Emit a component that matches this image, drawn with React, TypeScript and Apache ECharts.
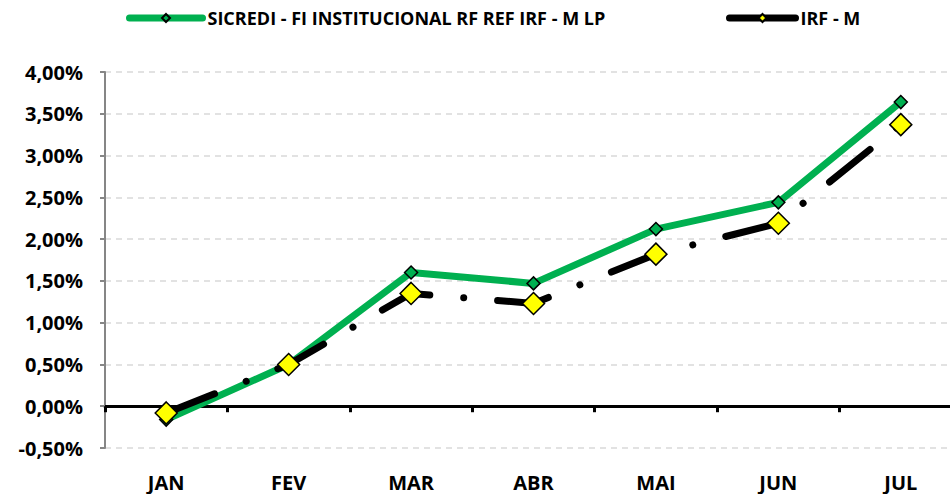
import React, { useEffect, useRef } from "react";
import * as echarts from "echarts";

const categories = ["JAN", "FEV", "MAR", "ABR", "MAI", "JUN", "JUL"];
const fundName = "SICREDI - FI INSTITUCIONAL RF REF IRF - M LP";
const benchName = "IRF - M";
const fundValues = [-0.16, 0.5, 1.6, 1.47, 2.12, 2.44, 3.64];
const benchValues = [-0.08, 0.5, 1.35, 1.23, 1.82, 2.19, 3.37];
const yMin = -0.5;
const yMax = 4;
const yStep = 0.5;

const FONT = "'Open Sans', sans-serif";

export default function App() {
  const ref = useRef<HTMLDivElement>(null);
  useEffect(() => {
    if (!ref.current) return;
    const chart = echarts.init(ref.current, undefined, { renderer: "svg" });
    chart.setOption({
      animation: false,
      backgroundColor: "#ffffff",
      legend: [
        {
          data: [fundName],
          left: 126,
          top: 9,
          padding: 0,
          itemWidth: 73,
          itemHeight: 10,
          textStyle: { fontFamily: FONT, fontWeight: "bold", fontSize: 18, color: "#000" },
          lineStyle: { type: "solid", width: 7 },
        },
        {
          data: [benchName],
          left: 726,
          top: 9,
          padding: 0,
          itemWidth: 66,
          itemHeight: 10,
          textStyle: { fontFamily: FONT, fontWeight: "bold", fontSize: 18, color: "#000" },
          lineStyle: { type: "solid", width: 7 },
        },
      ],
      grid: { left: 105, right: 0, top: 72, bottom: 46, containLabel: false },
      xAxis: [
        {
          type: "category",
          data: categories,
          position: "bottom",
          axisLine: { show: false, onZero: false },
          axisTick: { show: false },
          axisLabel: {
            margin: 24,
            lineHeight: 20,
            fontFamily: FONT,
            fontWeight: "bold",
            fontSize: 20,
            color: "#000",
          },
        },
        {
          type: "category",
          data: categories,
          position: "bottom",
          axisLine: { show: true, onZero: true, lineStyle: { color: "#000", width: 3 } },
          axisTick: { show: true, inside: false, length: 6, lineStyle: { color: "#000", width: 3 } },
          axisLabel: { show: false },
        },
      ],
      yAxis: {
        type: "value",
        min: yMin,
        max: yMax,
        interval: yStep,
        axisLine: { show: true, lineStyle: { color: "#868686", width: 2 } },
        axisTick: { show: true, length: 5, lineStyle: { color: "#868686", width: 2 } },
        splitLine: { show: true, lineStyle: { color: "#D9D9D9", width: 1.5, type: [6, 5] } },
        axisLabel: {
          margin: 22,
          fontFamily: FONT,
          fontWeight: "bold",
          fontSize: 20,
          color: "#000",
          formatter: (v: number) => v.toFixed(2).replace(".", ",") + "%",
        },
      },
      series: [
        {
          name: fundName,
          type: "line",
          xAxisIndex: 0,
          data: fundValues,
          z: 2,
          lineStyle: { color: "#00B050", width: 7, cap: "round", join: "round" },
          symbol: "diamond",
          symbolSize: 13,
          itemStyle: { color: "#00B050", borderColor: "#000", borderWidth: 1.5 },
        },
        {
          name: benchName,
          type: "line",
          xAxisIndex: 0,
          data: benchValues,
          z: 3,
          lineStyle: {
            color: "#000",
            width: 7,
            type: [52, 34, 0.01, 34],
            dashOffset: 0,
            cap: "round",
            join: "round",
          },
          symbol: "diamond",
          symbolSize: 22,
          itemStyle: { color: "#FFFF00", borderColor: "#000", borderWidth: 1.5 },
        },
      ],
    });
    return () => chart.dispose();
  }, []);
  return (
    <div style={{ position: "absolute", left: 0, top: 0, width: 950, height: 494, overflow: "hidden" }}>
      <div ref={ref} style={{ width: 962, height: 494 }} />
    </div>
  );
}
